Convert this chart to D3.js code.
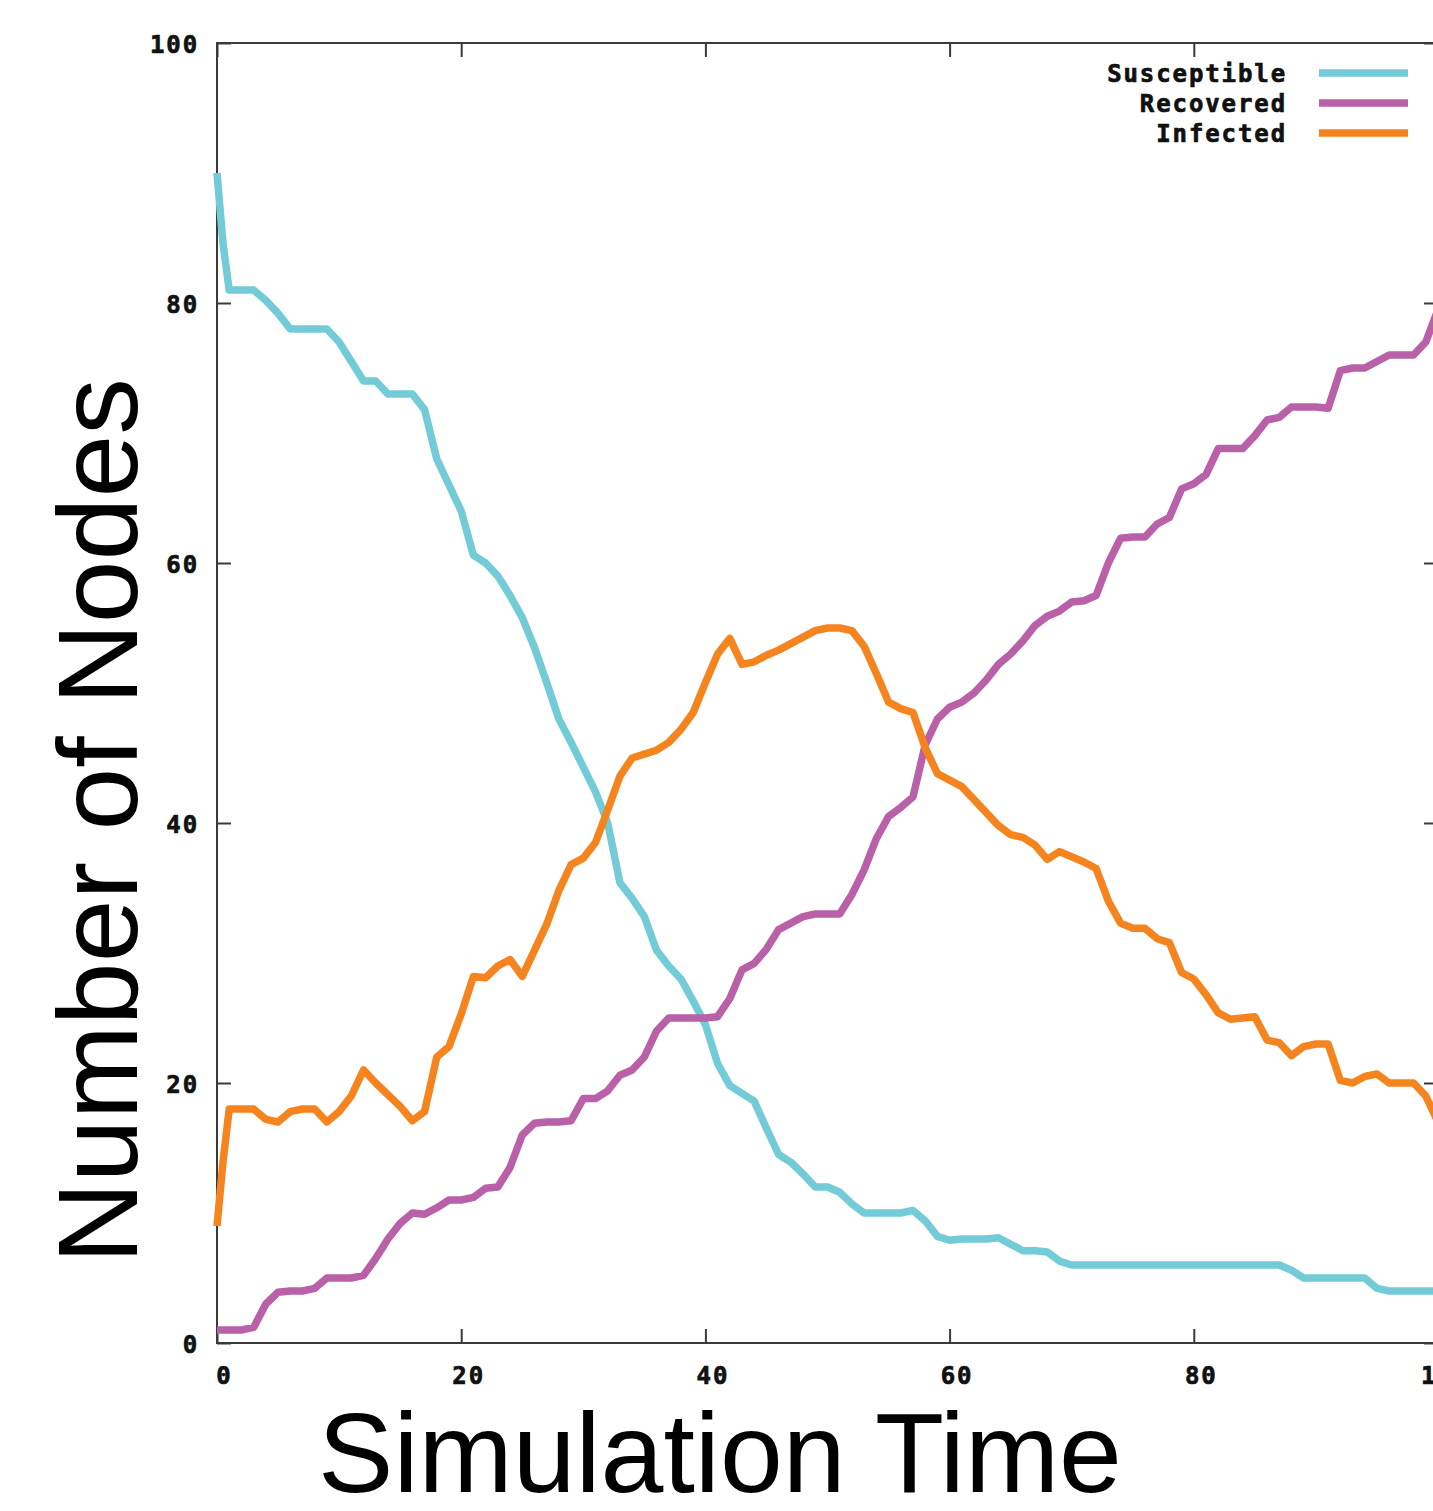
<!DOCTYPE html>
<html>
<head>
<meta charset="utf-8">
<script src="https://cdn.jsdelivr.net/npm/d3@7"></script>
<style>
  html, body { margin: 0; padding: 0; background: #fff; }
  svg { display: block; }
</style>
</head>
<body>
<svg id="chart" width="1433" height="1511"></svg>
<script>
// ---------- data ----------
const times = [0, 0.5, 1, 2, 3, 4, 5, 6, 7, 8, 9,
  10, 11, 12, 13, 14, 15, 16, 17, 18, 19,
  20, 21, 22, 23, 24, 25, 26, 27, 28, 29,
  30, 31, 32, 33, 34, 35, 36, 37, 38, 39,
  40, 41, 42, 43, 44, 45, 46, 47, 48, 49,
  50, 51, 52, 53, 54, 55, 56, 57, 58, 59,
  60, 61, 62, 63, 64, 65, 66, 67, 68, 69,
  70, 71, 72, 73, 74, 75, 76, 77, 78, 79,
  80, 81, 82, 83, 84, 85, 86, 87, 88, 89,
  90, 91, 92, 93, 94, 95, 96, 97, 98, 99, 100];

const susceptible = [90, 84.5, 81, 81, 81, 80.2, 79.2, 78, 78, 78, 78,
  77, 75.5, 74, 74, 73, 73, 73, 71.8, 68, 66,
  64, 60.6, 60, 59, 57.5, 55.8, 53.5, 50.8, 48, 46.2,
  44.3, 42.4, 40, 35.4, 34.2, 32.8, 30.2, 29, 28, 26.3,
  24.5, 21.5, 19.8, 19.2, 18.6, 16.5, 14.5, 13.9, 13, 12,
  12, 11.6, 10.7, 10, 10, 10, 10, 10.2, 9.4, 8.2,
  7.9, 8, 8, 8, 8.1, 7.6, 7.1, 7.1, 7, 6.3,
  6, 6, 6, 6, 6, 6, 6, 6, 6, 6,
  6, 6, 6, 6, 6, 6, 6, 6, 5.6, 5,
  5, 5, 5, 5, 5, 4.2, 4, 4, 4, 4, 4];

const recovered = [1, 1, 1, 1, 1.2, 3, 3.9, 4, 4, 4.2, 5,
  5, 5, 5.2, 6.5, 8, 9.2, 10, 9.9, 10.4, 11,
  11, 11.2, 11.9, 12, 13.5, 16, 16.9, 17, 17, 17.1,
  18.8, 18.8, 19.4, 20.6, 21, 22, 24, 25, 25, 25,
  25, 25.1, 26.5, 28.7, 29.2, 30.3, 31.8, 32.3, 32.8, 33,
  33, 33, 34.5, 36.4, 38.8, 40.5, 41.2, 42, 46, 48,
  48.9, 49.3, 50, 51, 52.2, 53, 54, 55.2, 55.9, 56.3,
  57, 57.1, 57.5, 60, 61.9, 62, 62, 63, 63.5, 65.7,
  66.1, 66.8, 68.8, 68.8, 68.8, 69.8, 71, 71.2, 72, 72,
  72, 71.9, 74.8, 75, 75, 75.5, 76, 76, 76, 77, 79.5];

const infected = [9, 14, 18, 18, 18, 17.2, 17, 17.8, 18, 18, 17,
  17.8, 19, 21, 20, 19.1, 18.2, 17.1, 17.8, 22, 22.8,
  25.3, 28.2, 28.1, 29, 29.5, 28.2, 30.2, 32.2, 34.8, 36.8,
  37.3, 38.5, 41, 43.6, 45, 45.3, 45.6, 46.2, 47.2, 48.5,
  50.8, 53, 54.2, 52.2, 52.4, 52.9, 53.3, 53.8, 54.3, 54.8,
  55, 55, 54.8, 53.6, 51.5, 49.3, 48.8, 48.5, 45.8, 43.8,
  43.3, 42.8, 41.8, 40.8, 39.8, 39.1, 38.9, 38.3, 37.2, 37.8,
  37.4, 37, 36.5, 34, 32.3, 31.9, 31.9, 31.1, 30.8, 28.5,
  28, 26.8, 25.4, 24.9, 25, 25.1, 23.3, 23.1, 22.1, 22.8,
  23, 23, 20.2, 20, 20.5, 20.7, 20, 20, 20, 19, 17];

const seriesNames = ["Susceptible", "Recovered", "Infected"];
const seriesColors = ["#72cbd6", "#b960a8", "#f5841f"];
const xTicks = [0, 20, 40, 60, 80, 100];
const yTicks = [0, 20, 40, 60, 80, 100];
const xTitle = "Simulation Time";
const yTitle = "Number of Nodes";

// ---------- drawing ----------
(function draw() {
const svg = d3.select("#chart");
const pLeft = 217, pRight = 1438, pTop = 43, pBottom = 1343;

const x = d3.scaleLinear().domain([0, 100]).range([pLeft, pRight]);
const y = d3.scaleLinear().domain([0, 100]).range([pBottom, pTop]);

const tickFont = "'DejaVu Sans Mono', monospace";
const axisColor = "#3a3a3a";

function styleText(sel, size, spacing) {
  sel.attr("font-family", tickFont)
    .attr("font-weight", "bold")
    .attr("font-size", size)
    .attr("letter-spacing", spacing)
    .attr("fill", "#111")
    .attr("stroke", "#111")
    .attr("stroke-width", 0.7);
}

function styleAxis(g, showLabels) {
  g.select(".domain").remove();
  g.selectAll(".tick line").attr("stroke", axisColor).attr("stroke-width", 2);
  if (showLabels) styleText(g.selectAll(".tick text"), 24, 1.9);
  else g.selectAll(".tick text").remove();
}

// bottom axis
svg.append("g")
  .attr("transform", `translate(0,${pBottom})`)
  .call(d3.axisBottom(x).tickValues(xTicks).tickSize(-14).tickPadding(0).tickFormat(d3.format("d")))
  .call(g => styleAxis(g, true))
  .call(g => g.selectAll(".tick text").attr("dy", "1.7em").attr("dx", 7));

// top axis (mirror ticks)
svg.append("g")
  .attr("transform", `translate(0,${pTop})`)
  .call(d3.axisTop(x).tickValues(xTicks).tickSize(-14))
  .call(g => styleAxis(g, false));

// left axis
svg.append("g")
  .attr("transform", `translate(${pLeft},0)`)
  .call(d3.axisLeft(y).tickValues(yTicks).tickSize(-14).tickPadding(0).tickFormat(d3.format("d")))
  .call(g => styleAxis(g, true))
  .call(g => g.selectAll(".tick text").attr("x", -18).attr("dy", "0.4em"));

// right axis (mirror ticks)
svg.append("g")
  .attr("transform", `translate(${pRight},0)`)
  .call(d3.axisRight(y).tickValues(yTicks).tickSize(-14))
  .call(g => styleAxis(g, false));

// frame
svg.append("rect")
  .attr("x", pLeft).attr("y", pTop)
  .attr("width", pRight - pLeft).attr("height", pBottom - pTop)
  .attr("fill", "none").attr("stroke", axisColor).attr("stroke-width", 2);

// lines
const allSeries = [susceptible, recovered, infected];
const line = d3.line()
  .x((d, i) => x(times[i]))
  .y(d => y(d));

const plot = svg.append("g");
allSeries.forEach((vals, k) => {
  plot.append("path")
    .datum(vals)
    .attr("d", line)
    .attr("fill", "none")
    .attr("stroke", seriesColors[k])
    .attr("stroke-width", 7.5)
    .attr("stroke-linejoin", "round")
    .attr("stroke-linecap", "butt");
});

// legend
const legend = svg.append("g");
seriesNames.forEach((name, k) => {
  const ly = 73 + k * 30;
  legend.append("text")
    .attr("x", 1287)
    .attr("y", ly)
    .attr("dy", "0.36em")
    .attr("text-anchor", "end")
    .call(s => styleText(s, 24, 1.9))
    .text(name);
  legend.append("line")
    .attr("x1", 1319).attr("x2", 1408)
    .attr("y1", ly).attr("y2", ly)
    .attr("stroke", seriesColors[k])
    .attr("stroke-width", 7.5);
});

// axis titles
svg.append("text")
  .attr("x", 720)
  .attr("y", 1492)
  .attr("text-anchor", "middle")
  .attr("font-family", "'Liberation Sans', Arial, sans-serif")
  .attr("font-size", 113)
  .attr("fill", "#000")
  .text(xTitle);

svg.append("text")
  .attr("transform", "translate(137,821) rotate(-90)")
  .attr("text-anchor", "middle")
  .attr("font-family", "'Liberation Sans', Arial, sans-serif")
  .attr("font-size", 113)
  .attr("fill", "#000")
  .text(yTitle);
})();
</script>
</body>
</html>
